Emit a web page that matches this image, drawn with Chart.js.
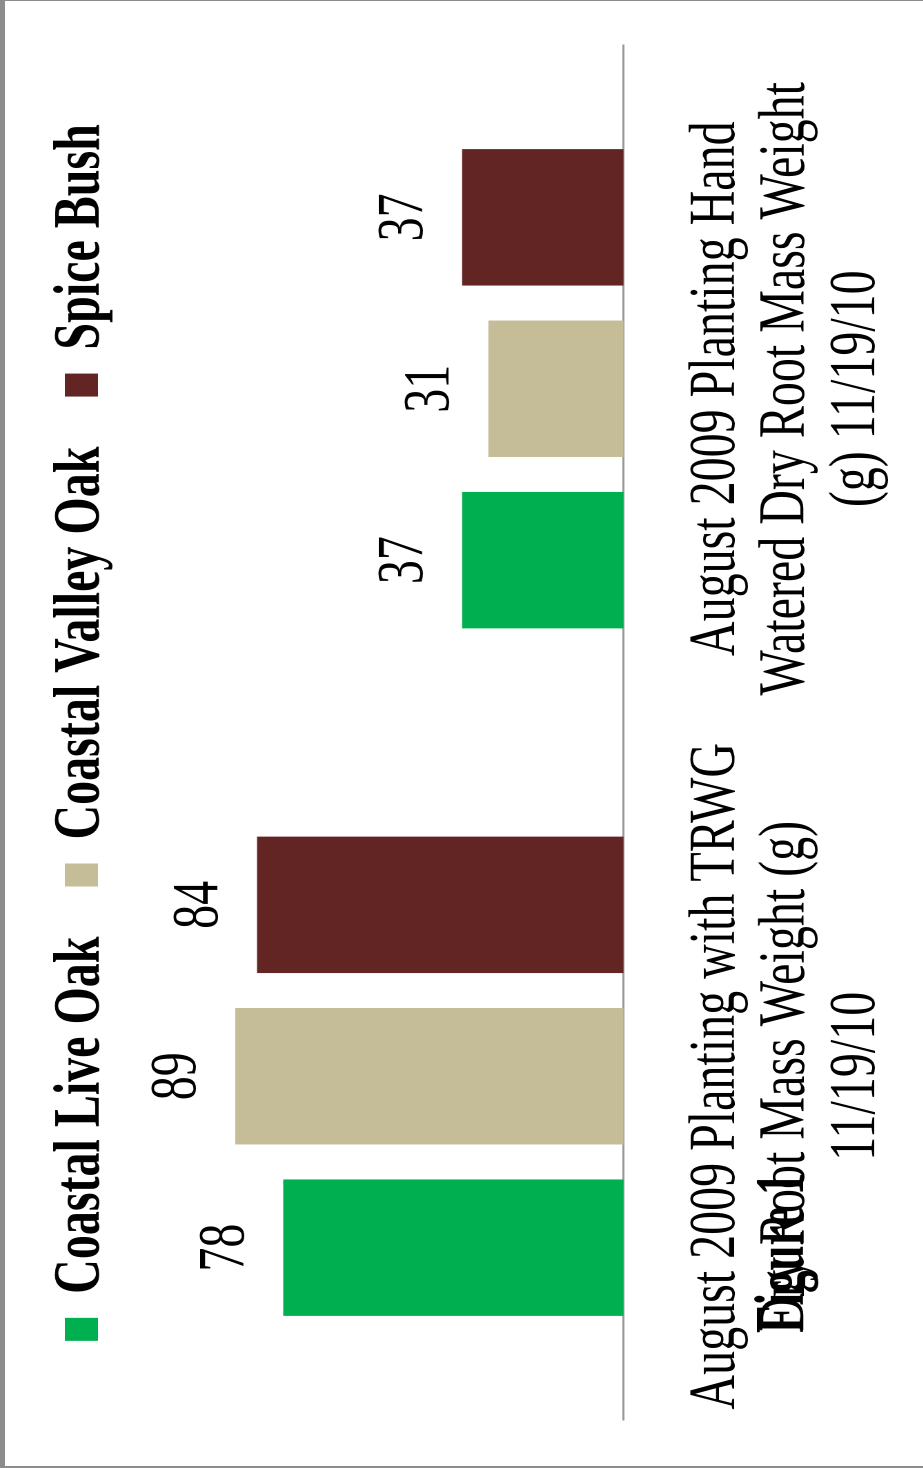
<!DOCTYPE html>
<html>
<head>
<meta charset="utf-8">
<script src="https://cdn.jsdelivr.net/npm/chart.js@4.4.1/dist/chart.umd.min.js"></script>
<style>
    html, body { margin: 0; padding: 0; background: #fff; overflow: hidden; }
    body { width: 923px; height: 1468px; position: relative; }
    /* chart is drawn lying on its side, then turned and stretched like the original */
    #wrap {
        position: absolute; left: 0; top: 0;
        width: 1468px; height: 669px;
        transform-origin: 0 0;
        transform: translateY(1468px) rotate(-90deg) scaleY(1.38);
    }
    #frame {
        position: absolute; left: 0; top: 0; width: 923px; height: 1468px;
        box-sizing: border-box;
        border-left: 5px solid #8c8c8c;
        border-top: 1px solid #8c8c8c;
        border-bottom: 2px solid #8c8c8c;
        pointer-events: none;
    }
</style>
</head>
<body>
<div id="wrap"><canvas id="chartCanvas" width="1468" height="669"></canvas></div>
<div id="frame"></div>
<script>
// Categories (multi-line tick labels)
var categories = [
    ['August 2009 Planting with TRWG', 'Dry Root Mass Weight (g)', '11/19/10'],
    ['August 2009 Planting Hand', 'Watered Dry Root Mass Weight', '(g) 11/19/10']
];

// Series values
var liveOak = [78, 37];
var valleyOak = [89, 31];
var spiceBush = [84, 37];

var seriesNames = ['Coastal Live Oak', 'Coastal Valley Oak', 'Spice Bush'];
var seriesColors = ['#00b050', '#c4bd97', '#632523'];

var captionText = 'Figure 1';

// Plugin: value labels above the bars
var valueLabels = {
    id: 'valueLabels',
    afterDatasetsDraw: function(chart) {
        var ctx = chart.ctx;
        ctx.save();
        ctx.font = '48px "Liberation Serif"';
        ctx.fillStyle = '#000';
        ctx.textAlign = 'center';
        ctx.textBaseline = 'middle';
        chart.data.datasets.forEach(function(ds, i) {
            var meta = chart.getDatasetMeta(i);
            meta.data.forEach(function(bar, j) {
                ctx.fillText(String(ds.data[j]), bar.x, bar.y - 41.5);
            });
        });
        ctx.restore();
    }
};

// Plugin: the "Figure 1" caption overlapping the labels
var caption = {
    id: 'caption',
    afterDraw: function(chart) {
        var ctx = chart.ctx;
        ctx.save();
        ctx.translate(135, 582);
        ctx.scale(1, 1.12);
        ctx.font = 'bold 45px "Liberation Serif"';
        ctx.fillStyle = '#000';
        ctx.textAlign = 'left';
        ctx.textBaseline = 'alphabetic';
        ctx.fillText(captionText, 0, 0);
        ctx.restore();
    }
};

var chart = new Chart(document.getElementById('chartCanvas'), {
    type: 'bar',
    data: {
        labels: categories,
        datasets: [
            { label: seriesNames[0], data: liveOak, backgroundColor: seriesColors[0], borderWidth: 0 },
            { label: seriesNames[1], data: valleyOak, backgroundColor: seriesColors[1], borderWidth: 0 },
            { label: seriesNames[2], data: spiceBush, backgroundColor: seriesColors[2], borderWidth: 0 }
        ]
    },
    options: {
        responsive: false,
        animation: false,
        devicePixelRatio: 2,
        categoryPercentage: 0.748,
        barPercentage: 0.796,
        layout: {
            padding: { top: -15, left: 48, right: 45, bottom: -19 }
        },
        plugins: {
            legend: {
                display: true,
                position: 'top',
                labels: {
                    color: '#000',
                    font: { family: 'Liberation Serif', size: 48, weight: 'bold' },
                    boxWidth: 23,
                    boxHeight: 24,
                    padding: 50
                }
            },
            tooltip: { enabled: false },
            title: { display: false }
        },
        scales: {
            x: {
                grid: { display: false, drawTicks: false },
                border: { display: true, color: '#999999', width: 1.5 },
                ticks: {
                    color: '#000',
                    padding: 42,
                    maxRotation: 0,
                    autoSkip: false,
                    font: { family: 'Liberation Serif', size: 48, lineHeight: 1.056 }
                }
            },
            y: {
                display: false,
                min: 0,
                max: 113.5
            }
        }
    },
    plugins: [valueLabels, caption]
});
</script>
</body>
</html>
